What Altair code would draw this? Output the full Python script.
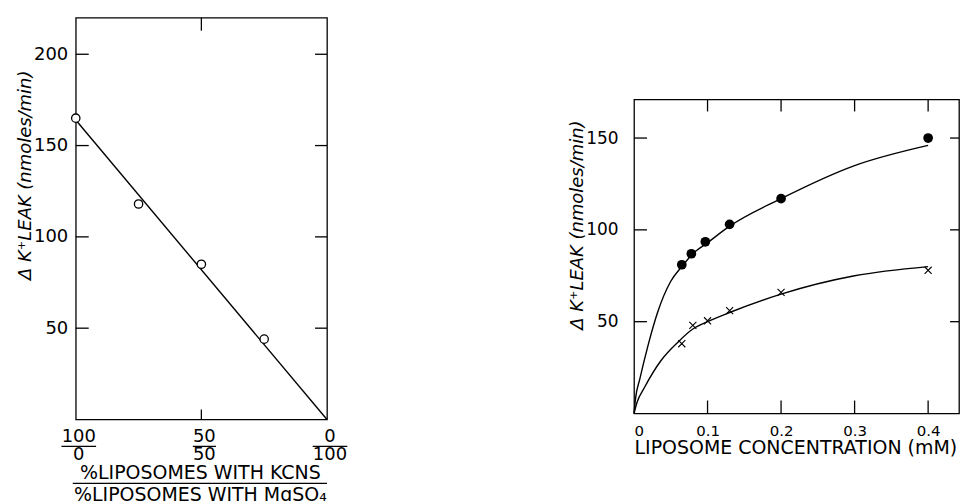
import altair as alt
import pandas as pd

# ---------------- Left panel data ----------------
mix_pct_mg = [0, 25, 50, 75]            # % liposomes with MgSO4 (100 - % with KCNS)
mix_leak = [165, 118, 85, 44]           # Δ K+ leak (nmoles/min)
fit_pct_mg = [0, 100]
fit_leak = [164, 0]
left_yticks = [50, 100, 150, 200]
left_xticks = [0, 50, 100]
frac_num = ["100", "50", "0"]
frac_den = ["0", "50", "100"]
left_xtitle_top = "%LIPOSOMES WITH KCNS"
left_xtitle_bottom = "%LIPOSOMES WITH MgSO₄"
ytitle = "Δ K⁺LEAK (nmoles/min)"

# ---------------- Right panel data ----------------
filled_conc = [0.065, 0.078, 0.097, 0.13, 0.2, 0.4]
filled_leak = [81, 87, 93.5, 103, 117, 150]
cross_conc = [0.065, 0.08, 0.1, 0.13, 0.2, 0.4]
cross_leak = [38, 48, 50.5, 56, 66, 78]
upper_curve_x = [0, 0.002, 0.008, 0.019, 0.032, 0.05, 0.065, 0.08, 0.1, 0.13, 0.2, 0.3, 0.4]
upper_curve_y = [0, 8, 19, 37, 55, 72, 80, 87, 93, 102, 117, 135, 146]
lower_curve_x = [0, 0.004, 0.014, 0.037, 0.06, 0.08, 0.1, 0.13, 0.2, 0.3, 0.4]
lower_curve_y = [0, 6, 14, 29, 39, 46, 50, 55, 65, 75, 80]
right_yticks = [50, 100, 150]
right_xticks = [0.1, 0.2, 0.3, 0.4]
right_xlabels = [0, 0.1, 0.2, 0.3, 0.4]
right_xtitle = "LIPOSOME CONCENTRATION (mM)"

FONT = "DejaVu Sans"

# ================= LEFT PANEL =================
LW, LH = 252, 403
lx = alt.Scale(domain=[0, 100])
ly = alt.Scale(domain=[0, 220])

df_fit = pd.DataFrame({"x": fit_pct_mg, "y": fit_leak})
df_mix = pd.DataFrame({"x": mix_pct_mg, "y": mix_leak})
df_lyt = pd.DataFrame({"y": left_yticks})
df_lxt = pd.DataFrame({"x": [50]})
df_frac = pd.DataFrame({"x": left_xticks, "num": frac_num, "den": frac_den})

l_line = alt.Chart(df_fit).mark_line(color="black", strokeWidth=1.4).encode(
    x=alt.X("x:Q", scale=lx, axis=None),
    y=alt.Y("y:Q", scale=ly, axis=alt.Axis(values=left_yticks, labelFontSize=18, labelPadding=8,
                                            ticks=False, domain=False, grid=False, title=None,
                                            labelColor="black")),
)
l_pts = alt.Chart(df_mix).mark_point(shape="circle", filled=True, fill="white", stroke="black",
                                     strokeWidth=1.3, size=70, opacity=1).encode(
    x=alt.X("x:Q", scale=lx), y=alt.Y("y:Q", scale=ly))
l_tick_l = alt.Chart(df_lyt).mark_rule(color="black", strokeWidth=1.3).encode(
    y=alt.Y("y:Q", scale=ly), x=alt.value(0), x2=alt.value(13))
l_tick_r = alt.Chart(df_lyt).mark_rule(color="black", strokeWidth=1.3).encode(
    y=alt.Y("y:Q", scale=ly), x=alt.value(LW - 12), x2=alt.value(LW))
l_tick_t = alt.Chart(df_lxt).mark_rule(color="black", strokeWidth=1.3).encode(
    x=alt.X("x:Q", scale=lx), y=alt.value(0), y2=alt.value(13))
l_tick_b = alt.Chart(df_lxt).mark_rule(color="black", strokeWidth=1.3).encode(
    x=alt.X("x:Q", scale=lx), y=alt.value(LH - 10), y2=alt.value(LH))
l_num = alt.Chart(df_frac).mark_text(font=FONT, fontSize=18, baseline="middle", dx=3).encode(
    x=alt.X("x:Q", scale=lx), y=alt.value(LH + 18), text="num:N")
l_den = alt.Chart(df_frac).mark_text(font=FONT, fontSize=18, baseline="middle", dx=3).encode(
    x=alt.X("x:Q", scale=lx), y=alt.value(LH + 36), text="den:N")
l_bar = alt.Chart(df_frac).transform_calculate(
    half="max(length(datum.num), length(datum.den)) * 2.3",
    x1="datum.x - datum.half + 1.2", x2="datum.x + datum.half + 1.2",
).mark_rule(color="black", strokeWidth=1.3).encode(
    x=alt.X("x1:Q", scale=lx), x2="x2:Q", y=alt.value(LH + 27))
l_t1 = alt.Chart(pd.DataFrame({"t": [left_xtitle_top]})).mark_text(
    font=FONT, fontSize=19, baseline="middle").encode(
    x=alt.value(LW / 2 - 1), y=alt.value(LH + 54), text="t:N")
l_t2 = alt.Chart(pd.DataFrame({"t": [left_xtitle_bottom]})).mark_text(
    font=FONT, fontSize=19, baseline="middle").encode(
    x=alt.value(LW / 2 - 1), y=alt.value(LH + 76), text="t:N")
l_tbar = alt.Chart(pd.DataFrame({"t": [left_xtitle_top]})).mark_rule(
    color="black", strokeWidth=1.3).encode(
    x=alt.value(-3), x2=alt.value(LW), y=alt.value(LH + 64))
l_ytitle = alt.Chart(pd.DataFrame({"t": [ytitle]})).mark_text(
    font=FONT, fontSize=18, fontStyle="italic", angle=270, baseline="middle").encode(
    x=alt.value(-50), y=alt.value(158), text="t:N")

left = alt.layer(l_line, l_pts, l_tick_l, l_tick_r, l_tick_t, l_tick_b,
                 l_num, l_den, l_bar, l_t1, l_t2, l_tbar, l_ytitle).properties(width=LW, height=LH)

# ================= RIGHT PANEL =================
RW, RH = 326, 315
rx = alt.Scale(domain=[0, 0.442])
ry = alt.Scale(domain=[0, 171])

df_up = pd.DataFrame({"x": upper_curve_x, "y": upper_curve_y})
df_lo = pd.DataFrame({"x": lower_curve_x, "y": lower_curve_y})
df_f = pd.DataFrame({"x": filled_conc, "y": filled_leak})
df_c = pd.DataFrame({"x": cross_conc, "y": cross_leak})
df_ryt = pd.DataFrame({"y": right_yticks})
df_rxt = pd.DataFrame({"x": right_xticks})

r_up = alt.Chart(df_up).mark_line(color="black", strokeWidth=1.4, interpolate="monotone").encode(
    x=alt.X("x:Q", scale=rx, axis=alt.Axis(values=right_xlabels, labelFontSize=15, labelPadding=10,
                                            labelExpr="datum.value == 0 ? '0' : format(datum.value, '.1f')",
                                            ticks=False, domain=False, grid=False,
                                            title=right_xtitle, titleFontSize=19, titleFontWeight="normal",
                                            titleAnchor="start", titlePadding=0, titleFont=FONT,
                                            labelColor="black", titleColor="black")),
    y=alt.Y("y:Q", scale=ry, axis=alt.Axis(values=right_yticks, labelFontSize=17, labelPadding=16,
                                            ticks=False, domain=False, grid=False, title=None,
                                            labelColor="black")),
)
r_lo = alt.Chart(df_lo).mark_line(color="black", strokeWidth=1.4, interpolate="monotone").encode(
    x=alt.X("x:Q", scale=rx), y=alt.Y("y:Q", scale=ry))
r_f = alt.Chart(df_f).mark_circle(color="black", size=95, opacity=1).encode(
    x=alt.X("x:Q", scale=rx), y=alt.Y("y:Q", scale=ry))
r_c = alt.Chart(df_c).mark_point(shape="M-1,-1L1,1M-1,1L1,-1", filled=False, stroke="black",
                                 strokeWidth=1.1, size=50, opacity=1).encode(
    x=alt.X("x:Q", scale=rx), y=alt.Y("y:Q", scale=ry))
r_tick_l = alt.Chart(df_ryt).mark_rule(color="black", strokeWidth=1.3).encode(
    y=alt.Y("y:Q", scale=ry), x=alt.value(0), x2=alt.value(13))
r_tick_r = alt.Chart(df_ryt).mark_rule(color="black", strokeWidth=1.3).encode(
    y=alt.Y("y:Q", scale=ry), x=alt.value(RW - 9), x2=alt.value(RW))
r_tick_t = alt.Chart(df_rxt).mark_rule(color="black", strokeWidth=1.3).encode(
    x=alt.X("x:Q", scale=rx), y=alt.value(0), y2=alt.value(12))
r_tick_b = alt.Chart(df_rxt).mark_rule(color="black", strokeWidth=1.3).encode(
    x=alt.X("x:Q", scale=rx), y=alt.value(RH - 13), y2=alt.value(RH))
r_ytitle = alt.Chart(pd.DataFrame({"t": [ytitle]})).mark_text(
    font=FONT, fontSize=18, fontStyle="italic", angle=270, baseline="middle").encode(
    x=alt.value(-56), y=alt.value(126), text="t:N")

right = alt.layer(r_up, r_lo, r_f, r_c, r_tick_l, r_tick_r, r_tick_t, r_tick_b,
                  r_ytitle).properties(width=RW, height=RH)

spacer = alt.Chart(pd.DataFrame({"t": [""]})).mark_text(opacity=0, baseline="top", fontSize=8).encode(
    x=alt.value(10), y=alt.value(10), text="t:N"
).properties(width=RW, height=79, view=alt.ViewBackground(stroke="transparent"))

right_col = alt.vconcat(spacer, right, spacing=0)

chart = alt.hconcat(left, right_col, spacing=220).properties(
    padding={"left": 16, "top": 15, "right": 0, "bottom": 0},
    background="white",
).configure(font=FONT).configure_view(stroke="black", strokeWidth=1.3).configure_axis(
    labelFont=FONT, titleFont=FONT)

chart.save("out.html", embed_options={"renderer": "svg", "actions": False})
